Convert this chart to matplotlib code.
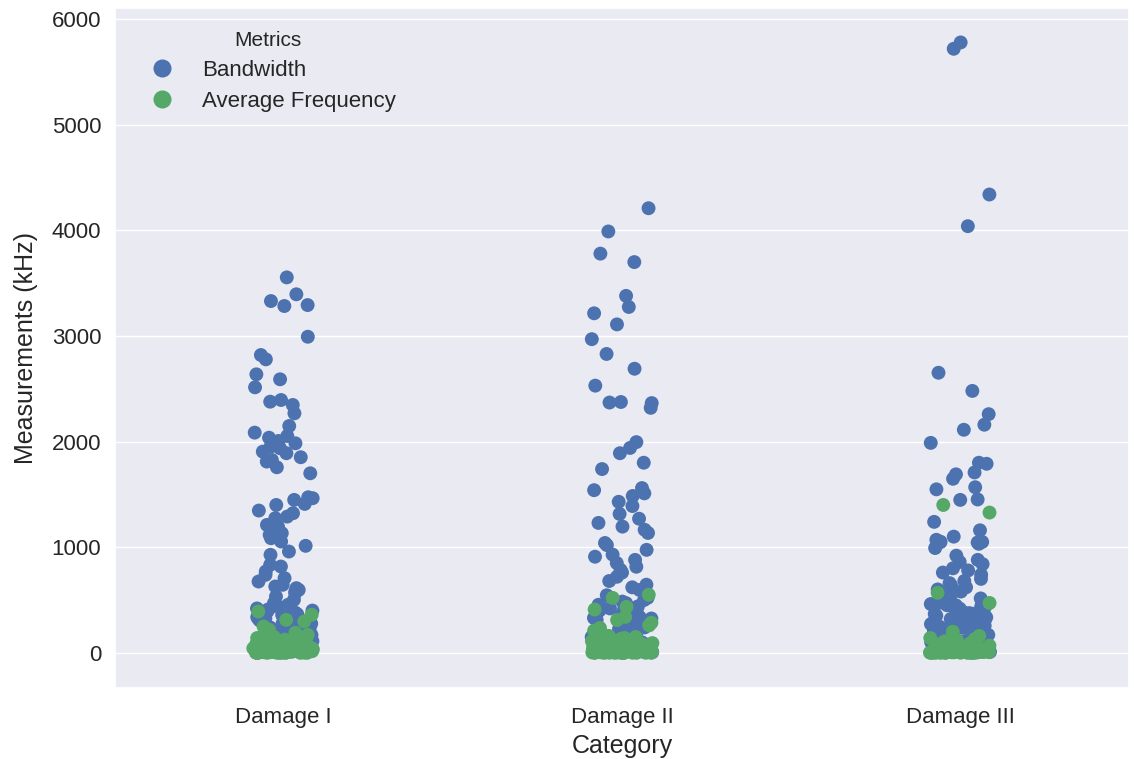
import numpy as np
import pandas as pd
import matplotlib
matplotlib.use("Agg")
import matplotlib.pyplot as plt
import seaborn as sns

categories = ["Damage I", "Damage II", "Damage III"]
metrics = ["Bandwidth", "Average Frequency"]

# Bandwidth (kHz) per category
bw_damage1 = [3555, 3395, 3331, 3284, 3293, 2993, 2820, 2779, 2637, 2590, 2514, 2394, 2347,
              2378, 2268, 2148, 2085, 2053, 2037, 2006, 1952, 1984, 1937, 1905, 1890, 1852,
              1826, 1811, 1757, 1700, 1464, 1448, 1473, 1410, 1400, 1347, 1322, 1290, 1275,
              1211, 1196, 1133, 1117, 1085, 1054, 1013, 959, 928, 833, 817, 770, 738, 707,
              675, 644, 628, 612, 596, 580, 565, 533, 502, 470, 455, 440, 430, 420, 410, 400,
              390, 380, 372, 365, 358, 350, 340, 332, 325, 318, 310, 300, 292, 285, 276, 268,
              260, 250, 242, 235, 226, 218, 210, 200, 192, 185, 176, 168, 160, 150, 142, 135,
              126, 118, 110, 100, 92, 85, 76, 68, 60, 52, 45, 38, 30, 24, 18, 12, 8, 4, 2,
              380, 345, 310, 275, 240, 205, 170, 135, 100, 65]
bw_damage2 = [4210, 3990, 3780, 3700, 3380, 3275, 3215, 3110, 2970, 2830, 2690, 2530, 2370,
              2365, 2320, 2375, 1995, 1940, 1890, 1800, 1740, 1560, 1540, 1510, 1485, 1430,
              1390, 1315, 1270, 1230, 1195, 1165, 1135, 1040, 1020, 975, 930, 910, 880, 850,
              815, 785, 760, 720, 680, 645, 620, 595, 570, 545, 520, 500, 485, 470, 455, 440,
              425, 410, 398, 385, 372, 360, 350, 338, 325, 312, 300, 290, 278, 265, 252, 240,
              228, 215, 205, 195, 182, 170, 160, 150, 140, 130, 120, 110, 100, 90, 80, 70, 60,
              50, 42, 35, 28, 20, 14, 9, 5, 2, 420, 380, 330, 280, 230, 180, 130]
bw_damage3 = [5780, 5720, 4340, 4040, 2652, 2480, 2260, 2160, 2112, 1988, 1800, 1790, 1708,
              1690, 1648, 1568, 1548, 1452, 1448, 1240, 1160, 1100, 1070, 1052, 1050, 1048,
              1045, 1032, 992, 920, 880, 860, 840, 800, 780, 760, 740, 700, 680, 660, 640, 620,
              600, 580, 560, 545, 530, 515, 500, 488, 475, 462, 450, 440, 430, 420, 410, 400,
              392, 384, 376, 368, 360, 352, 344, 336, 328, 320, 312, 304, 296, 288, 280, 272,
              264, 256, 248, 240, 232, 224, 216, 208, 200, 190, 180, 170, 160, 150, 140, 130,
              120, 110, 100, 90, 80, 70, 60, 50, 40, 30, 22, 15, 8, 3,
              450, 410, 370, 330, 290, 250, 210, 170]

# Average frequency (kHz) per category
af_damage1 = [391, 360, 312, 296, 249, 218, 190, 170, 150, 140, 130, 120, 112, 105, 98, 92,
              86, 80, 75, 70, 65, 60, 56, 52, 48, 44, 40, 37, 34, 31, 28, 25, 22, 20, 18, 16,
              14, 12, 10, 9, 8, 7, 6, 5, 4, 3, 2, 1, 0, 0, 15, 25, 35, 45, 55, 65, 75, 85, 95,
              110, 125, 160, 30, 50, 70, 90,
              0, 0, 0, 1, 1, 2, 3, 4, 5, 6, 8, 10, 12, 14, 16, 18, 20, 22, 26, 30, 34, 38,
              42, 46, 50, 55, 60, 66, 72, 80, 0, 2, 5, 9, 13, 18, 24, 32, 40, 48]
af_damage2 = [550, 520, 435, 410, 340, 310, 285, 260, 235, 210, 190, 170, 150, 140, 130, 120,
              110, 100, 92, 85, 78, 72, 66, 60, 55, 50, 45, 40, 36, 32, 28, 24, 20, 17, 14,
              12, 10, 8, 6, 5, 4, 3, 2, 1, 0, 0, 15, 25, 35, 45, 65, 80, 95, 115, 135, 160,
              0, 0, 0, 1, 1, 2, 3, 4, 5, 6, 8, 10, 12, 14, 16, 18, 20, 22, 26, 30, 34, 38,
              42, 46, 50, 55, 60, 66, 72, 80, 0, 2, 5, 9, 13, 18, 24, 32, 40, 48]
af_damage3 = [1400, 1328, 568, 472, 200, 160, 140, 120, 110, 100, 90, 82, 75, 68, 62, 56, 50,
              45, 40, 36, 32, 28, 24, 20, 17, 14, 12, 10, 8, 6, 5, 4, 3, 2, 1, 0, 0, 15, 25,
              35, 45, 55, 65, 80, 95, 130,
              0, 0, 0, 1, 1, 2, 3, 4, 5, 6, 8, 10, 12, 14, 16, 18, 20, 22, 26, 30, 34, 38,
              42, 46, 50, 55, 60, 66, 72, 80, 0, 2, 5, 9, 13, 18, 24, 32, 40, 48]

bandwidth = [bw_damage1, bw_damage2, bw_damage3]
avg_freq = [af_damage1, af_damage2, af_damage3]

rows = []
for cat, bw, af in zip(categories, bandwidth, avg_freq):
    rows += [(cat, "Bandwidth", v) for v in bw]
    rows += [(cat, "Average Frequency", v) for v in af]
df = pd.DataFrame(rows, columns=["Category", "Metrics", "Measurements (kHz)"])

sns.set_theme(style="darkgrid")
plt.rcParams["font.family"] = ["Liberation Sans", "DejaVu Sans"]

np.random.seed(3)
fig, ax = plt.subplots(figsize=(11.34, 7.59), dpi=100)
fig.subplots_adjust(left=0.101, right=0.996, top=0.99, bottom=0.094)

sns.stripplot(data=df, x="Category", y="Measurements (kHz)", hue="Metrics",
              hue_order=metrics, order=categories, palette=["#4C72B0", "#55A868"],
              jitter=0.09, size=10, linewidth=0, ax=ax, legend=True)

ax.set_xlabel("Category", fontsize=18, labelpad=4)
ax.set_ylabel("Measurements (kHz)", fontsize=18, labelpad=10)
ax.tick_params(axis="both", labelsize=16)
ax.tick_params(axis="x", pad=8)
ax.set_yticks([0, 1000, 2000, 3000, 4000, 5000, 6000])
ax.set_ylim(-330, 6110)

leg = ax.legend(title="Metrics", loc="upper left", fontsize=16, title_fontsize=15,
                markerscale=1.3, frameon=False, bbox_to_anchor=(0.005, 0.995),
                labelspacing=0.45)

fig.savefig("out.png", dpi=100)
